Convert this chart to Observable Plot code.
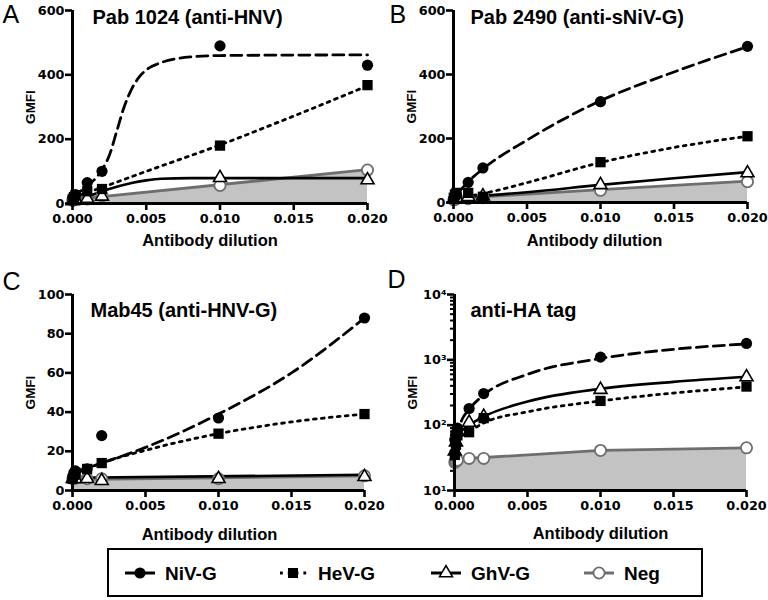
<!DOCTYPE html>
<html><head><meta charset="utf-8">
<script src="https://cdn.jsdelivr.net/npm/d3@7"></script>
<script src="https://cdn.jsdelivr.net/npm/@observablehq/plot@0.6"></script>
<style>
body{margin:0;background:#fff;font-family:"Liberation Sans",Arial,Helvetica,sans-serif;}
#fig{position:relative;width:768px;height:600px;overflow:hidden;background:#fff}
.panel{position:absolute}
#legend{position:absolute;left:107px;top:548px}
</style></head><body><div id="fig"></div>
<script>
// ---------- DATA ----------
const doses = [0.00002, 0.0001, 0.0002, 0.001, 0.002, 0.01, 0.02];
const seriesNames = ["NiV-G", "HeV-G", "GhV-G", "Neg"];
const xTicks = [0, 0.005, 0.010, 0.015, 0.020];

// Panel A: Pab 1024 (anti-HNV)
const aNiV = [18, 22, 28, 65, 100, 490, 430];
const aHeV = [14, 20, 26, 38, 45, 180, 368];
const aGhV = [8, 10, 12, 15, 22, 80, 73];
const aNeg = [10, 12, 14, 14, 24, 56, 104];
const aNiVFit = [[0,20],[0.001,55],[0.0015,75],[0.002,105],[0.0025,150],[0.003,225],[0.0035,300],[0.004,355],[0.0045,392],[0.005,415],[0.006,438],[0.007,450],[0.008,456],[0.01,460],[0.02,462]];
const aHeVFit = [[0,18],[0.002,50],[0.005,100],[0.01,182],[0.015,272],[0.02,366]];
const aGhVFit = [[0,14],[0.001,22],[0.002,38],[0.003,52],[0.004,64],[0.005,72],[0.006,77],[0.008,79],[0.01,79],[0.02,79]];
const aNegFit = [[0,12],[0.02,105]];

// Panel B: Pab 2490 (anti-sNiV-G)
const bNiV = [12, 18, 25, 63, 108, 315, 488];
const bHeV = [15, 25, 30, 30, 18, 126, 207];
const bGhV = [10, 12, 15, 18, 20, 55, 92];
const bNeg = [8, 10, 12, 12, 15, 38, 65];
const bNiVFit = [[0.0005,40],[0.001,65],[0.002,105],[0.005,195],[0.01,318],[0.015,408],[0.02,487]];
const bHeVFit = [[0.0008,18],[0.002,28],[0.005,62],[0.01,125],[0.015,172],[0.02,207]];
const bGhVFit = [[0,15],[0.005,32],[0.01,55],[0.015,76],[0.02,95]];
const bNegFit = [[0,12],[0.01,40],[0.02,67]];

// Panel C: Mab45 (anti-HNV-G)
const cNiV = [7, 9, 10, 11, 28, 37, 88];
const cHeV = [6, 8, 9, 11, 14, 29, 39];
const cGhV = [6, 6, 6, 6, 5, 6, 7];
const cNeg = [6, 6, 7, 6, 6, 6, 7.5];
const cNiVFit = [[0,9],[0.002,14],[0.005,22],[0.01,39],[0.015,60],[0.02,88]];
const cHeVFit = [[0,8],[0.002,14],[0.005,20.5],[0.01,29],[0.015,35],[0.02,39]];
const cGhVFit = [[0,6.5],[0.02,8]];
const cNegFit = [[0,5.5],[0.02,7.5]];

// Panel D: anti-HA tag (log scale)
const dNiV = [60, 75, 90, 180, 305, 1100, 1780];
const dHeV = [35, 50, 70, 78, 128, 235, 390];
const dGhV = [40, 55, 80, 110, 135, 350, 545];
const dNeg = [27, 28, 29, 31, 31, 41, 45];
const dNiVFit = [[0.0001,65],[0.0005,120],[0.001,175],[0.002,290],[0.005,600],[0.01,1050],[0.015,1450],[0.02,1750]];
const dHeVFit = [[0.0001,60],[0.001,80],[0.002,108],[0.005,160],[0.01,235],[0.015,310],[0.02,385]];
const dGhVFit = [[0.0001,70],[0.001,100],[0.002,135],[0.005,230],[0.01,360],[0.015,460],[0.02,550]];
const dNegFit = [[0,28],[0.001,31],[0.002,32],[0.01,41],[0.02,45]];

const linTicksAB = [0, 200, 400, 600];
const linTicksC = [0, 20, 40, 60, 80, 100];
const logTicksD = [10, 100, 1000, 10000];
const logLabelsD = ["10\u00B9", "10\u00B2", "10\u00B3", "10\u2074"];

// ---------- STYLE ----------
const FONT = '"Liberation Sans", Arial, Helvetica, sans-serif';
const TICKFONT = '"DejaVu Sans", Verdana, sans-serif';
const TICKSIZE = 12.8;
const NEG_STROKE = "#6e6e6e";
const NEG_FILL = "#c3c3c3";

const fig = document.getElementById("fig");

function rows(vals) { return doses.map((x, i) => ({x, y: vals[i]})); }

function makePanel(cfg) {
  const [niv, hev, ghv, neg] = cfg.points;
  const [nivF, hevF, ghvF, negF] = cfg.fits;
  const base = cfg.yDomain[0];
  const X = d => d[0], Y = d => d[1];
  const marks = [
    Plot.areaY(negF, {x: X, y1: base, y2: Y, fill: NEG_FILL, curve: "linear"}),
    Plot.line(negF, {x: X, y: Y, stroke: NEG_STROKE, strokeWidth: 2.8, curve: "linear"}),
    Plot.line(ghvF, {x: X, y: Y, stroke: "#000", strokeWidth: 2.6, curve: "monotone-x"}),
    Plot.line(hevF, {x: X, y: Y, stroke: "#000", strokeWidth: 2.8, strokeDasharray: "2.8,5.2", curve: "monotone-x"}),
    Plot.line(nivF, {x: X, y: Y, stroke: "#000", strokeWidth: 2.8, strokeDasharray: "11,6", curve: "monotone-x"}),
    Plot.dot(rows(neg), {x: "x", y: "y", symbol: "circle", r: 5.6, fill: "white", stroke: NEG_STROKE, strokeWidth: 1.8}),
    Plot.dot(rows(ghv), {x: "x", y: "y", symbol: "triangle", r: 4.8, fill: "white", stroke: "#000", strokeWidth: 1.6}),
    Plot.dot(rows(hev), {x: "x", y: "y", symbol: "square", r: 5.8, fill: "#000", stroke: "none"}),
    Plot.dot(rows(niv), {x: "x", y: "y", symbol: "circle", r: 5.6, fill: "#000"}),
  ];
  if (cfg.minorTicks) {
    marks.push(Plot.axisY({ticks: cfg.minorTicks, tickSize: 4, tickFormat: () => "", strokeWidth: 2, label: null}));
  }
  marks.push(
    Plot.axisY({ticks: cfg.yTicks, tickSize: 7, tickPadding: 1, tickFormat: cfg.yFmt, strokeWidth: 2.6, label: null,
      fontSize: TICKSIZE}),
    Plot.axisX({ticks: xTicks, tickSize: 7, tickPadding: 3, tickFormat: d3.format(".3f"), strokeWidth: 2.6, label: null,
      fontSize: TICKSIZE}),
    Plot.ruleX([0], {strokeWidth: 3, stroke: "#000"}),
    Plot.ruleY([base], {strokeWidth: 3, stroke: "#000"}),
    Plot.text(["GMFI"], {frameAnchor: "left", dx: -42, rotate: -90, textAnchor: "middle", lineAnchor: "middle",
      fontFamily: FONT, fontSize: 13.5, fontWeight: "bold", fill: "#000"}),
    Plot.text(["Antibody dilution"], {frameAnchor: "bottom", dx: cfg.xlabDx, dy: cfg.xlabDy, textAnchor: "middle", lineAnchor: "middle",
      fontFamily: FONT, fontSize: 16.5, fontWeight: "bold", fill: "#000"}),
    Plot.text([cfg.title], {frameAnchor: "top-left", dx: cfg.titleDx, dy: cfg.titleDy, lineAnchor: "top", textAnchor: "start",
      fontFamily: FONT, fontSize: 20, fontWeight: "bold", fill: "#000"}),
    Plot.text([cfg.letter], {frameAnchor: "top-left", dx: cfg.letterDx, dy: cfg.letterDy, lineAnchor: "top", textAnchor: "start",
      fontFamily: FONT, fontSize: 25, fontWeight: "normal", fill: "#000"})
  );
  const svg = Plot.plot({
    width: cfg.width, height: cfg.height,
    marginLeft: cfg.mL, marginRight: cfg.mR, marginTop: cfg.mT, marginBottom: cfg.mB,
    x: {domain: [0, 0.02]},
    y: {type: cfg.yType, domain: cfg.yDomain},
    style: {fontFamily: TICKFONT, fontSize: TICKSIZE + "px", fontWeight: "bold", color: "#000", background: "transparent", overflow: "visible"},
    marks
  });
  svg.classList.add("panel");
  svg.style.left = cfg.left + "px";
  svg.style.top = cfg.top + "px";
  fig.appendChild(svg);
}

const minorD = [];
for (const p of [10, 100, 1000]) for (let k = 2; k <= 9; k++) minorD.push(k * p);

makePanel({left: 0, top: 0, width: 384, height: 250, mL: 72, mR: 17, mT: 10, mB: 47,
  yType: "linear", yDomain: [0, 600], yTicks: linTicksAB, yFmt: d3.format("d"),
  points: [aNiV, aHeV, aGhV, aNeg], fits: [aNiVFit, aHeVFit, aGhVFit, aNegFit],
  title: "Pab 1024 (anti-HNV)", titleDx: 20, titleDy: -1, letter: "A", letterDx: -70, letterDy: -5,
  xlabDx: -10, xlabDy: 37});

makePanel({left: 384, top: 0, width: 384, height: 250, mL: 69, mR: 21, mT: 10, mB: 48,
  yType: "linear", yDomain: [0, 600], yTicks: linTicksAB, yFmt: d3.format("d"),
  points: [bNiV, bHeV, bGhV, bNeg], fits: [bNiVFit, bHeVFit, bGhVFit, bNegFit],
  title: "Pab 2490 (anti-sNiV-G)", titleDx: 17, titleDy: -1, letter: "B", letterDx: -64, letterDy: -5,
  xlabDx: -6, xlabDy: 38});

makePanel({left: 0, top: 250, width: 384, height: 298, mL: 72, mR: 20, mT: 44, mB: 58,
  yType: "linear", yDomain: [0, 100], yTicks: linTicksC, yFmt: d3.format("d"),
  points: [cNiV, cHeV, cGhV, cNeg], fits: [cNiVFit, cHeVFit, cGhVFit, cNegFit],
  title: "Mab45 (anti-HNV-G)", titleDx: 18, titleDy: 8, letter: "C", letterDx: -70, letterDy: -22,
  xlabDx: -9, xlabDy: 44});

makePanel({left: 384, top: 250, width: 384, height: 298, mL: 70, mR: 22, mT: 44, mB: 58,
  yType: "log", yDomain: [10, 10000], yTicks: logTicksD, yFmt: d => logLabelsD[logTicksD.indexOf(d)],
  minorTicks: minorD,
  points: [dNiV, dHeV, dGhV, dNeg], fits: [dNiVFit, dHeVFit, dGhVFit, dNegFit],
  title: "anti-HA tag", titleDx: 16, titleDy: 8, letter: "D", letterDx: -67, letterDy: -24,
  xlabDx: 0, xlabDy: 43});

// ---------- LEGEND ----------
const lw = 596, lh = 49;
const leg = d3.select(fig).append("svg").attr("id", "legend")
  .attr("width", lw).attr("height", lh).style("font-family", FONT);
leg.append("rect").attr("x", 1).attr("y", 1).attr("width", lw - 2).attr("height", lh - 2)
  .attr("fill", "white").attr("stroke", "#000").attr("stroke-width", 2);
const cy = 25;
seriesNames.forEach((name, i) => {
  const g = leg.append("g").attr("transform", `translate(${18 + i * 153},${cy})`);
  const line = g.append("line").attr("x1", 0).attr("x2", 30).attr("y1", 0).attr("y2", 0)
    .attr("stroke-width", 3);
  if (i === 0) { line.attr("stroke", "#000"); g.append("circle").attr("cx", 15).attr("r", 5.6).attr("fill", "#000"); }
  if (i === 1) { line.attr("stroke", "#000").attr("stroke-dasharray", "2.8,5").attr("x1", 2);
    g.append("rect").attr("x", 10).attr("y", -5).attr("width", 10).attr("height", 10).attr("fill", "#000"); }
  if (i === 2) { line.attr("stroke", "#000");
    g.append("path").attr("d", d3.symbol(d3.symbolTriangle, 72)()).attr("transform", "translate(15,0)")
      .attr("fill", "white").attr("stroke", "#000").attr("stroke-width", 1.6); }
  if (i === 3) { line.attr("stroke", NEG_STROKE);
    g.append("circle").attr("cx", 15).attr("r", 5.6).attr("fill", "white").attr("stroke", NEG_STROKE).attr("stroke-width", 1.8); }
  g.append("text").attr("x", 40).attr("y", 0).attr("dy", "0.36em").attr("font-size", 19)
    .attr("font-weight", "bold").text(name);
});
</script></body></html>
